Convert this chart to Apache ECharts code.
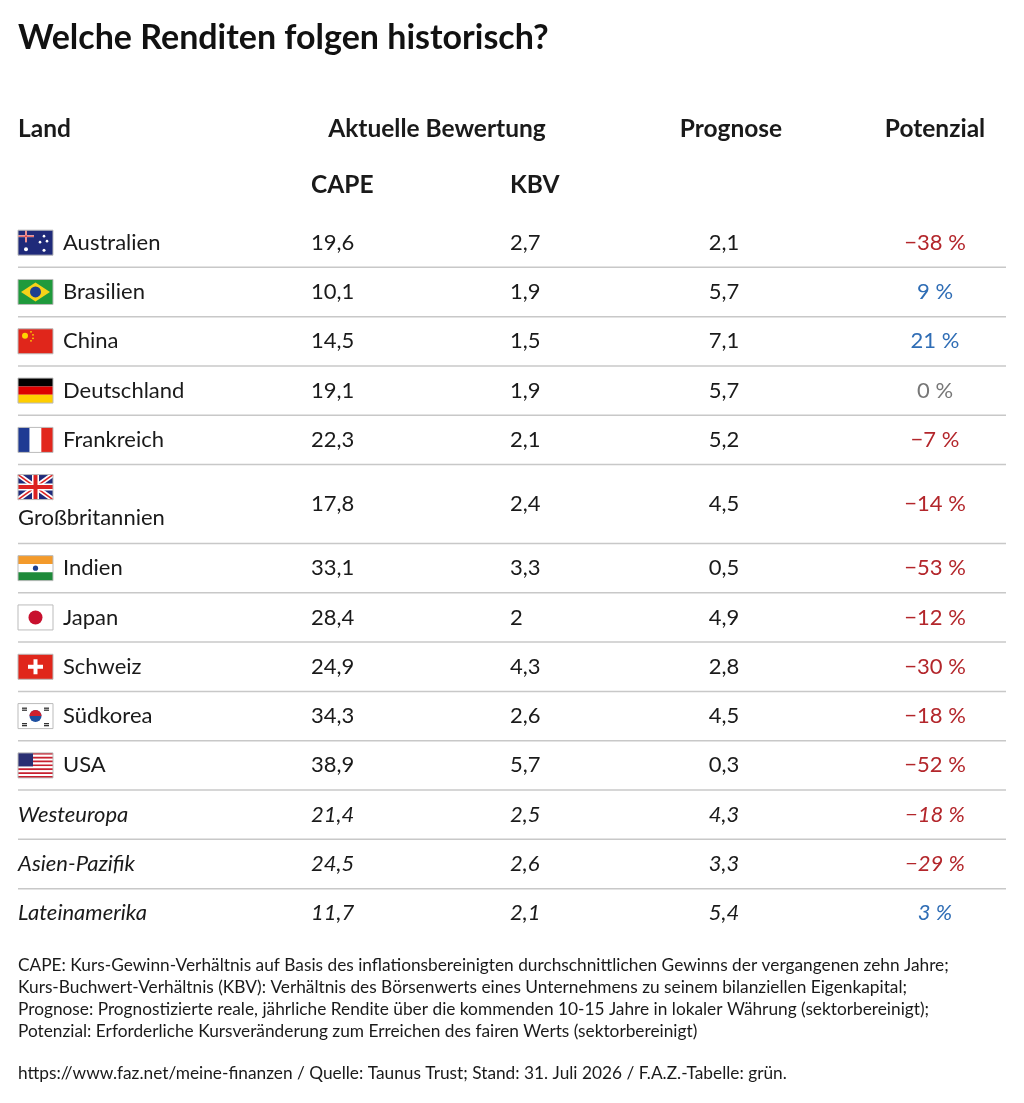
<!DOCTYPE html>
<html><head><meta charset="utf-8">
<script src="https://cdn.jsdelivr.net/npm/echarts@6/dist/echarts.min.js"></script>
<style>html,body{margin:0;padding:0;background:#fff}#c{width:1024px;height:1103px}</style>
</head><body><div id="c"></div>
<script>
var countries = ['Australien','Brasilien','China','Deutschland','Frankreich','Großbritannien','Indien','Japan','Schweiz','Südkorea','USA','Westeuropa','Asien-Pazifik','Lateinamerika'];
var flags = ['au','br','cn','de','fr','gb','in','jp','ch','kr','us','','',''];
var cape = [19.6,10.1,14.5,19.1,22.3,17.8,33.1,28.4,24.9,34.3,38.9,21.4,24.5,11.7];
var kbv = [2.7,1.9,1.5,1.9,2.1,2.4,3.3,2,4.3,2.6,5.7,2.5,2.6,2.1];
var prognose = [2.1,5.7,7.1,5.7,5.2,4.5,0.5,4.9,2.8,4.5,0.3,4.3,3.3,5.4];
var potenzial = [-38,9,21,0,-7,-14,-53,-12,-30,-18,-52,-18,-29,3];
var rowUnits = [1,1,1,1,1,1.6,1,1,1,1,1,1,1,1];

var FONT = 'Lato';
var tops = [], acc = 0;
rowUnits.forEach(function (u) { tops.push(acc); acc += u; });
function de(v) { return String(v).replace('.', ','); }
function potText(v) { return (v < 0 ? '\u2212' + Math.abs(v) : v) + ' %'; }
function potColor(v) { return v < 0 ? '#b3262b' : (v > 0 ? '#2f6db5' : '#777'); }

function flagShapes(code, x, y) {
  var w = 35, h = 25, s = [];
  function r(a, b, c, d, f) { s.push({type:'rect', shape:{x:x+a, y:y+b, width:c, height:d}, style:{fill:f}}); }
  function circ(cx, cy, rr, f) { s.push({type:'circle', shape:{cx:x+cx, cy:y+cy, r:rr}, style:{fill:f}}); }
  if (code === 'au') {
    r(0,0,w,h,'#1f2a7a'); r(0,5,16,2,'#fff'); r(7,0,2,12,'#fff'); r(0,5.5,16,1,'#d22'); r(7.5,0,1,12,'#d22');
    circ(8,19,2,'#fff'); circ(26,6,1.3,'#fff'); circ(22,12,1.3,'#fff'); circ(29,11,1.3,'#fff'); circ(26,20,1.5,'#fff');
  } else if (code === 'br') {
    r(0,0,w,h,'#1f9a3c');
    s.push({type:'polygon', shape:{points:[[x+17.5,y+3],[x+32,y+12.5],[x+17.5,y+22],[x+3,y+12.5]]}, style:{fill:'#f6d21a'}});
    circ(17.5,12.5,5.5,'#1d3f8f');
  } else if (code === 'cn') {
    r(0,0,w,h,'#e0261b'); circ(7,7,3,'#ffd400'); circ(13,3,0.9,'#ffd400'); circ(15,6,0.9,'#ffd400'); circ(15,9.5,0.9,'#ffd400'); circ(13,12,0.9,'#ffd400');
  } else if (code === 'de') {
    r(0,0,w,h/3,'#000'); r(0,h/3,w,h/3,'#dd0000'); r(0,2*h/3,w,h/3,'#ffce00');
  } else if (code === 'fr') {
    r(0,0,w/3,h,'#1f3a93'); r(w/3,0,w/3,h,'#fff'); r(2*w/3,0,w/3,h,'#e2261c');
  } else if (code === 'gb') {
    r(0,0,w,h,'#1f2a7a');
    s.push({type:'line', shape:{x1:x,y1:y,x2:x+w,y2:y+h}, style:{stroke:'#fff', lineWidth:5}});
    s.push({type:'line', shape:{x1:x+w,y1:y,x2:x,y2:y+h}, style:{stroke:'#fff', lineWidth:5}});
    s.push({type:'line', shape:{x1:x,y1:y,x2:x+w,y2:y+h}, style:{stroke:'#d22', lineWidth:1.6}});
    s.push({type:'line', shape:{x1:x+w,y1:y,x2:x,y2:y+h}, style:{stroke:'#d22', lineWidth:1.6}});
    r(0,9,w,7,'#fff'); r(14,0,7,h,'#fff'); r(0,10.5,w,4,'#d22'); r(15.5,0,4,h,'#d22');
  } else if (code === 'in') {
    r(0,0,w,h/3,'#f39a2b'); r(0,h/3,w,h/3,'#fff'); r(0,2*h/3,w,h/3,'#1e8a3a'); circ(17.5,12.5,2.6,'#1d3f8f');
  } else if (code === 'jp') {
    r(0,0,w,h,'#fff'); circ(17.5,12.5,7,'#c8102e');
  } else if (code === 'ch') {
    r(0,0,w,h,'#e0261b'); r(15.5,5,4,15,'#fff'); r(10,10.5,15,4,'#fff');
  } else if (code === 'kr') {
    r(0,0,w,h,'#fff'); circ(17.5,12.5,6,'#1d4fa0');
    s.push({type:'sector', shape:{cx:x+17.5, cy:y+12.5, r:6, startAngle:Math.PI, endAngle:2*Math.PI}, style:{fill:'#d0202e'}});
    r(4,4,5,1.2,'#222'); r(26,4,5,1.2,'#222'); r(4,19.5,5,1.2,'#222'); r(26,19.5,5,1.2,'#222');
    r(4,6,5,1.2,'#222'); r(26,6,5,1.2,'#222'); r(4,21.5,5,1.2,'#222'); r(26,21.5,5,1.2,'#222');
  } else if (code === 'us') {
    for (var i = 0; i < 13; i++) r(0, i*h/13, w, h/13, i % 2 ? '#fff' : '#c8202f');
    r(0,0,15,13.5,'#2a2f73');
  }
  s.push({type:'rect', shape:{x:x, y:y, width:w, height:h}, style:{fill:'none', stroke:'#bbb', lineWidth:1}});
  return s;
}

var chart = echarts.init(document.getElementById('c'));
function txt(x, y, t, o) {
  return Object.assign({type:'text', x:x, y:y, style:Object.assign({text:t, font:'22px ' + FONT, fill:'#1a1a1a', textVerticalAlign:'middle'}, o || {})});
}
var HF = 'bold 24.5px ' + FONT, NF = '17.3px ' + FONT;

var option = {
  animation: false,
  grid: {left: 0, right: 0, top: 218, bottom: 1103 - 938},
  xAxis: {type: 'value', min: 0, max: 1024, show: false},
  yAxis: {type: 'value', min: 0, max: acc, inverse: true, show: false},
  graphic: [
    txt(18, 38, 'Welche Renditen folgen historisch?', {font:'bold 34px ' + FONT, fill:'#111'}),
    txt(18, 129, 'Land', {font:HF}),
    txt(437, 129, 'Aktuelle Bewertung', {font:HF, textAlign:'center'}),
    txt(731, 129, 'Prognose', {font:HF, textAlign:'center'}),
    txt(935, 129, 'Potenzial', {font:HF, textAlign:'center'}),
    txt(311, 185, 'CAPE', {font:HF}),
    txt(510, 185, 'KBV', {font:HF}),
    txt(18, 965, 'CAPE: Kurs-Gewinn-Verhältnis auf Basis des inflationsbereinigten durchschnittlichen Gewinns der vergangenen zehn Jahre;', {font:NF}),
    txt(18, 987, 'Kurs-Buchwert-Verhältnis (KBV): Verhältnis des Börsenwerts eines Unternehmens zu seinem bilanziellen Eigenkapital;', {font:NF}),
    txt(18, 1009, 'Prognose: Prognostizierte reale, jährliche Rendite über die kommenden 10-15 Jahre in lokaler Währung (sektorbereinigt);', {font:NF}),
    txt(18, 1031, 'Potenzial: Erforderliche Kursveränderung zum Erreichen des fairen Werts (sektorbereinigt)', {font:NF}),
    txt(18, 1073, 'https://www.faz.net/meine-finanzen / Quelle: Taunus Trust; Stand: 31. Juli 2026 / F.A.Z.-Tabelle: grün.', {font:NF})
  ],
  series: [{
    type: 'custom',
    coordinateSystem: 'cartesian2d',
    data: countries.map(function (c, i) { return [0, i]; }),
    renderItem: function (params, api) {
      var i = api.value(1);
      var top = tops[i], h = rowUnits[i];
      var mid = api.coord([0, top + h / 2])[1];
      var bot = api.coord([0, top + h])[1];
      var topPx = api.coord([0, top])[1];
      var italic = flags[i] === '';
      var f = (italic ? 'italic ' : '') + '22px ' + FONT;
      var ch = [];
      if (flags[i] === 'gb') {
        ch = ch.concat(flagShapes('gb', 18, topPx + 10));
        ch.push(txt(18, topPx + 53, countries[i], {font: f}));
      } else if (!italic) {
        ch = ch.concat(flagShapes(flags[i], 18, mid - 12.5));
        ch.push(txt(63, mid, countries[i], {font: f}));
      } else {
        ch.push(txt(18, mid, countries[i], {font: f}));
      }
      ch.push(txt(api.coord([311, 0])[0], mid, de(cape[i]), {font: f}));
      ch.push(txt(api.coord([510, 0])[0], mid, de(kbv[i]), {font: f}));
      ch.push(txt(api.coord([724, 0])[0], mid, de(prognose[i]), {font: f, textAlign: 'center'}));
      ch.push(txt(api.coord([935, 0])[0], mid, potText(potenzial[i]), {font: f, textAlign: 'center', fill: potColor(potenzial[i])}));
      if (i < countries.length - 1) {
        ch.push({type: 'line', shape: {x1: 18, y1: bot, x2: 1006, y2: bot}, style: {stroke: '#c8c8c8', lineWidth: 1.5}});
      }
      return {type: 'group', children: ch};
    }
  }]
};
chart.setOption(option);
</script>
</body></html>
